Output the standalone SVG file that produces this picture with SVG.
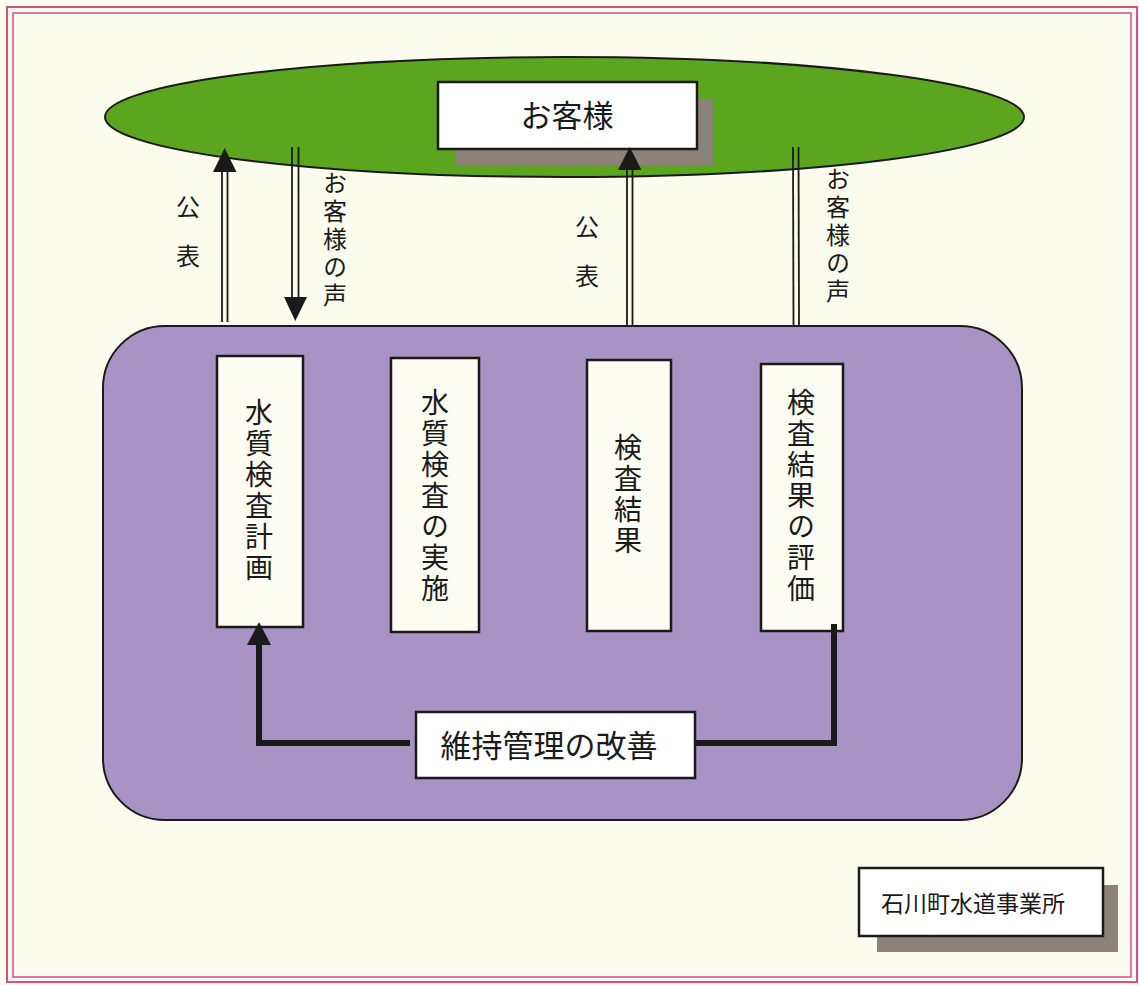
<svg xmlns="http://www.w3.org/2000/svg" width="1139" height="985" viewBox="0 0 1139 985">
<style>
.jp{font-family:"Noto Sans CJK JP","Liberation Sans",sans-serif;fill:#1a1a1a}
.box{fill:#fdfdf3;stroke:#1a1a1a;stroke-width:2.5}
.white{fill:#ffffff}
.vt{writing-mode:vertical-rl;text-anchor:middle;font-size:28px;letter-spacing:3px}
.lbl{writing-mode:vertical-rl;text-anchor:middle;font-size:24px;letter-spacing:4px}
.dbl{stroke:#1a1a1a;stroke-width:1.8;fill:none}
.thick{stroke:#1a1a1a;stroke-width:6;fill:none}
.head{fill:#1a1a1a}
.shadow{fill:#8b827a}
</style>
<rect width="1139" height="985" fill="#fbfcee"/>
<rect x="7" y="7" width="1130" height="975" fill="none" stroke="#d84e8b" stroke-width="2"/>
<rect x="13" y="13" width="1118" height="964" fill="none" stroke="#d84e8b" stroke-width="1.5"/>

<g id="customers">
<ellipse cx="564.5" cy="117" rx="459.5" ry="60" fill="#5ca61f" stroke="#1a1a1a" stroke-width="2"/>
<rect class="shadow" x="455" y="99" width="258" height="66"/>
<rect class="box white" x="438" y="82" width="259" height="67"/>
<text class="jp" x="567" y="127" font-size="31" text-anchor="middle">お客様</text>
</g>

<g id="organization">
<rect x="103" y="326" width="919" height="494" rx="62" ry="62" fill="#a794c5" stroke="#1a1a1a" stroke-width="2"/>
</g>

<g id="plan">
<rect class="box" x="217" y="356" width="86" height="271"/>
<text class="jp vt" x="259" y="491">水質検査計画</text>
</g>
<g id="exec">
<rect class="box" x="391" y="358" width="88" height="274"/>
<text class="jp vt" x="435" y="497">水質検査の実施</text>
</g>
<g id="result">
<rect class="box" x="587" y="360" width="84" height="271"/>
<text class="jp vt" x="628" y="495">検査結果</text>
</g>
<g id="eval">
<rect class="box" x="761" y="364" width="82" height="267"/>
<text class="jp vt" x="801" y="497">検査結果の評価</text>
</g>
<g id="improve">
<rect class="box white" x="416" y="712" width="279" height="66"/>
<text class="jp" x="549" y="757" font-size="31" text-anchor="middle">維持管理の改善</text>
</g>
<g id="office">
<rect class="shadow" x="877" y="885" width="241" height="67"/>
<rect class="box white" x="859" y="868" width="244" height="68"/>
<text class="jp" x="973" y="912" font-size="23" text-anchor="middle">石川町水道事業所</text>
</g>

<g id="connectors">
<line class="dbl" x1="222" y1="170" x2="222" y2="322"/>
<line class="dbl" x1="227.5" y1="170" x2="227.5" y2="322"/>
<polygon class="head" points="224.7,148 213,172 236.5,172"/>
<line class="dbl" x1="292" y1="147" x2="292" y2="299"/>
<line class="dbl" x1="298.5" y1="147" x2="298.5" y2="299"/>
<polygon class="head" points="295.3,321 284,297 307,297"/>
<line class="dbl" x1="627" y1="168" x2="627" y2="327"/>
<line class="dbl" x1="632.5" y1="168" x2="632.5" y2="327"/>
<polygon class="head" points="629.8,147 618,170 641.5,170"/>
<line class="dbl" x1="793" y1="147" x2="793.5" y2="326"/>
<line class="dbl" x1="798.5" y1="147" x2="799" y2="326"/>
<polyline class="thick" points="410,743 259,743 259,642"/>
<polygon class="head" points="259,622 247,645 271,645"/>
<polyline class="thick" points="695,743 834,743 834,624"/>
</g>

<g id="labels">
<text class="jp" x="188" y="216" font-size="24" text-anchor="middle">公</text>
<text class="jp" x="188" y="265" font-size="24" text-anchor="middle">表</text>
<text class="jp" x="587" y="236" font-size="24" text-anchor="middle">公</text>
<text class="jp" x="587" y="285" font-size="24" text-anchor="middle">表</text>
<text class="jp lbl" x="335" y="241">お客様の声</text>
<text class="jp lbl" x="838" y="237">お客様の声</text>
</g>
</svg>
